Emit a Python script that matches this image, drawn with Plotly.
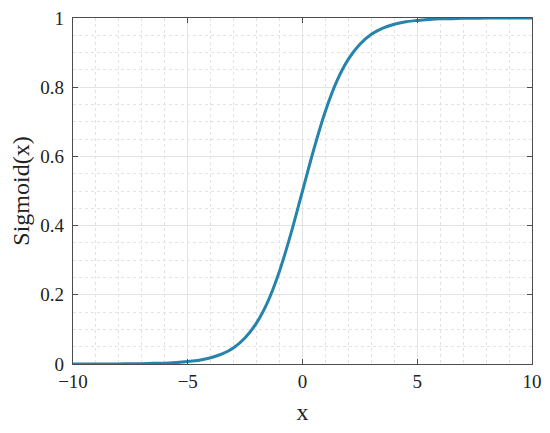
"""Courbe sigmoïde reproduite avec Plotly."""

import plotly.graph_objects as go

# Valeurs
x_values = [-10, -9.5, -9, -8.5, -8, -7.5, -7, -6.5, -6, -5.5, -5, -4.5, -4, -3.5,
            -3, -2.5, -2, -1.5, -1, -0.5, 0, 0.5, 1, 1.5, 2, 2.5, 3, 3.5, 4, 4.5,
            5, 5.5, 6, 6.5, 7, 7.5, 8, 8.5, 9, 9.5, 10]
y_values = [0.000, 0.000, 0.000, 0.000, 0.000, 0.001, 0.001, 0.002, 0.002, 0.004,
            0.007, 0.011, 0.018, 0.029, 0.047, 0.076, 0.119, 0.182, 0.269, 0.378,
            0.500, 0.622, 0.731, 0.818, 0.881, 0.924, 0.953, 0.971, 0.982, 0.989,
            0.993, 0.996, 0.998, 0.998, 0.999, 0.999, 1.000, 1.000, 1.000, 1.000,
            1.000]

x_ticks = [-10, -5, 0, 5, 10]
y_ticks = [0, 0.2, 0.4, 0.6, 0.8, 1]
y_tick_labels = ["0", "0.2", "0.4", "0.6", "0.8", "1"]

FONT = "Liberation Serif"
AXIS_COLOR = "#4d4d4d"
TEXT = "#222222"
GRID = "#e3e3e3"

fig = go.Figure(
    go.Scatter(
        x=x_values,
        y=y_values,
        mode="lines",
        line=dict(color="#2683ac", width=3, shape="spline"),
        showlegend=False,
    )
)

axis_common = dict(
    automargin=False,
    showline=True,
    linecolor=AXIS_COLOR,
    linewidth=1.2,
    mirror="ticks",
    ticks="inside",
    ticklen=5,
    tickcolor=AXIS_COLOR,
    showgrid=True,
    gridcolor=GRID,
    gridwidth=1,
    zeroline=False,
    tickfont=dict(family=FONT, size=19, color=TEXT),
)

fig.update_xaxes(
    **axis_common,
    range=[-10, 10],
    tickvals=x_ticks,
    ticklabelstandoff=0,
    title=dict(text="x", font=dict(family=FONT, size=24, color=TEXT), standoff=12),
    minor=dict(dtick=1, showgrid=True, griddash="dot", gridcolor=GRID, ticks=""),
)
fig.update_yaxes(
    **axis_common,
    range=[0, 1],
    tickvals=y_ticks,
    ticktext=y_tick_labels,
    ticklabelstandoff=4,
    title=dict(text="Sigmoid(x)", font=dict(family=FONT, size=24, color=TEXT), standoff=3),
    minor=dict(dtick=0.05, showgrid=True, griddash="dot", gridcolor=GRID, ticks=""),
)

fig.update_layout(
    width=550,
    height=433,
    margin=dict(l=73, r=18, t=18, b=69),
    plot_bgcolor="white",
    paper_bgcolor="white",
)

# la page par défaut décale la figure de 8 px ; on retire la marge du body
fig.write_html(
    "out.html",
    config={"displayModeBar": False},
    post_script="document.body.style.margin = '0';",
)
